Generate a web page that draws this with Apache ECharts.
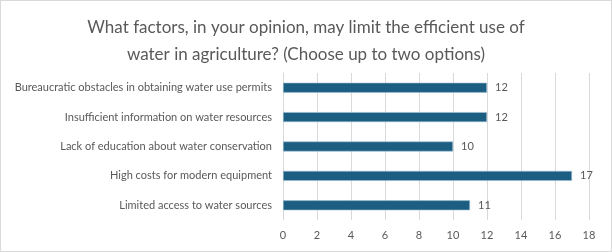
<!DOCTYPE html>
<html><head><meta charset="utf-8">
<script src="https://cdn.jsdelivr.net/npm/echarts@6/dist/echarts.min.js"></script>
<style>html,body{margin:0;padding:0;background:#fff}#c{width:612px;height:252px;box-sizing:border-box;border:1px solid #d9d9d9}</style>
</head><body><div id="c"></div>
<script>
const titleText = "What factors, in your opinion, may limit the efficient use of\nwater in agriculture? (Choose up to two options)";
const categories = [
  "Limited access to water sources",
  "High costs for modern equipment",
  "Lack of education about water conservation",
  "Insufficient information on water resources",
  "Bureaucratic obstacles in obtaining water use permits"
];
const values = [11, 17, 10, 12, 12];
const xMin = 0, xMax = 18, xStep = 2;

const chart = echarts.init(document.getElementById('c'), null, {renderer:'canvas'});
chart.setOption({
  animation:false,
  title:{text:titleText,left:'center',top:8,textStyle:{fontFamily:'Lato',fontSize:17,fontWeight:'normal',color:'#595959',lineHeight:27}},
  grid:{left:282,right:22,top:72,bottom:31,containLabel:false},
  xAxis:{type:'value',min:xMin,max:xMax,interval:xStep,
    axisLine:{show:false},axisTick:{show:false},
    axisLabel:{color:'#595959',fontFamily:'Lato',fontSize:11,margin:10},
    splitLine:{lineStyle:{color:'#d9d9d9',width:1}}},
  yAxis:{type:'category',data:categories,
    axisLine:{show:true,lineStyle:{color:'#d9d9d9'}},axisTick:{show:false},
    axisLabel:{color:'#595959',fontFamily:'Lato',fontSize:11,margin:11}},
  series:[{type:'bar',data:values,barWidth:10,
    itemStyle:{color:'#1b5e82',borderColor:'#9fc0d4',borderWidth:0.6},
    label:{show:true,position:'right',distance:8,color:'#595959',fontFamily:'Lato',fontSize:11}}]
});
</script></body></html>
